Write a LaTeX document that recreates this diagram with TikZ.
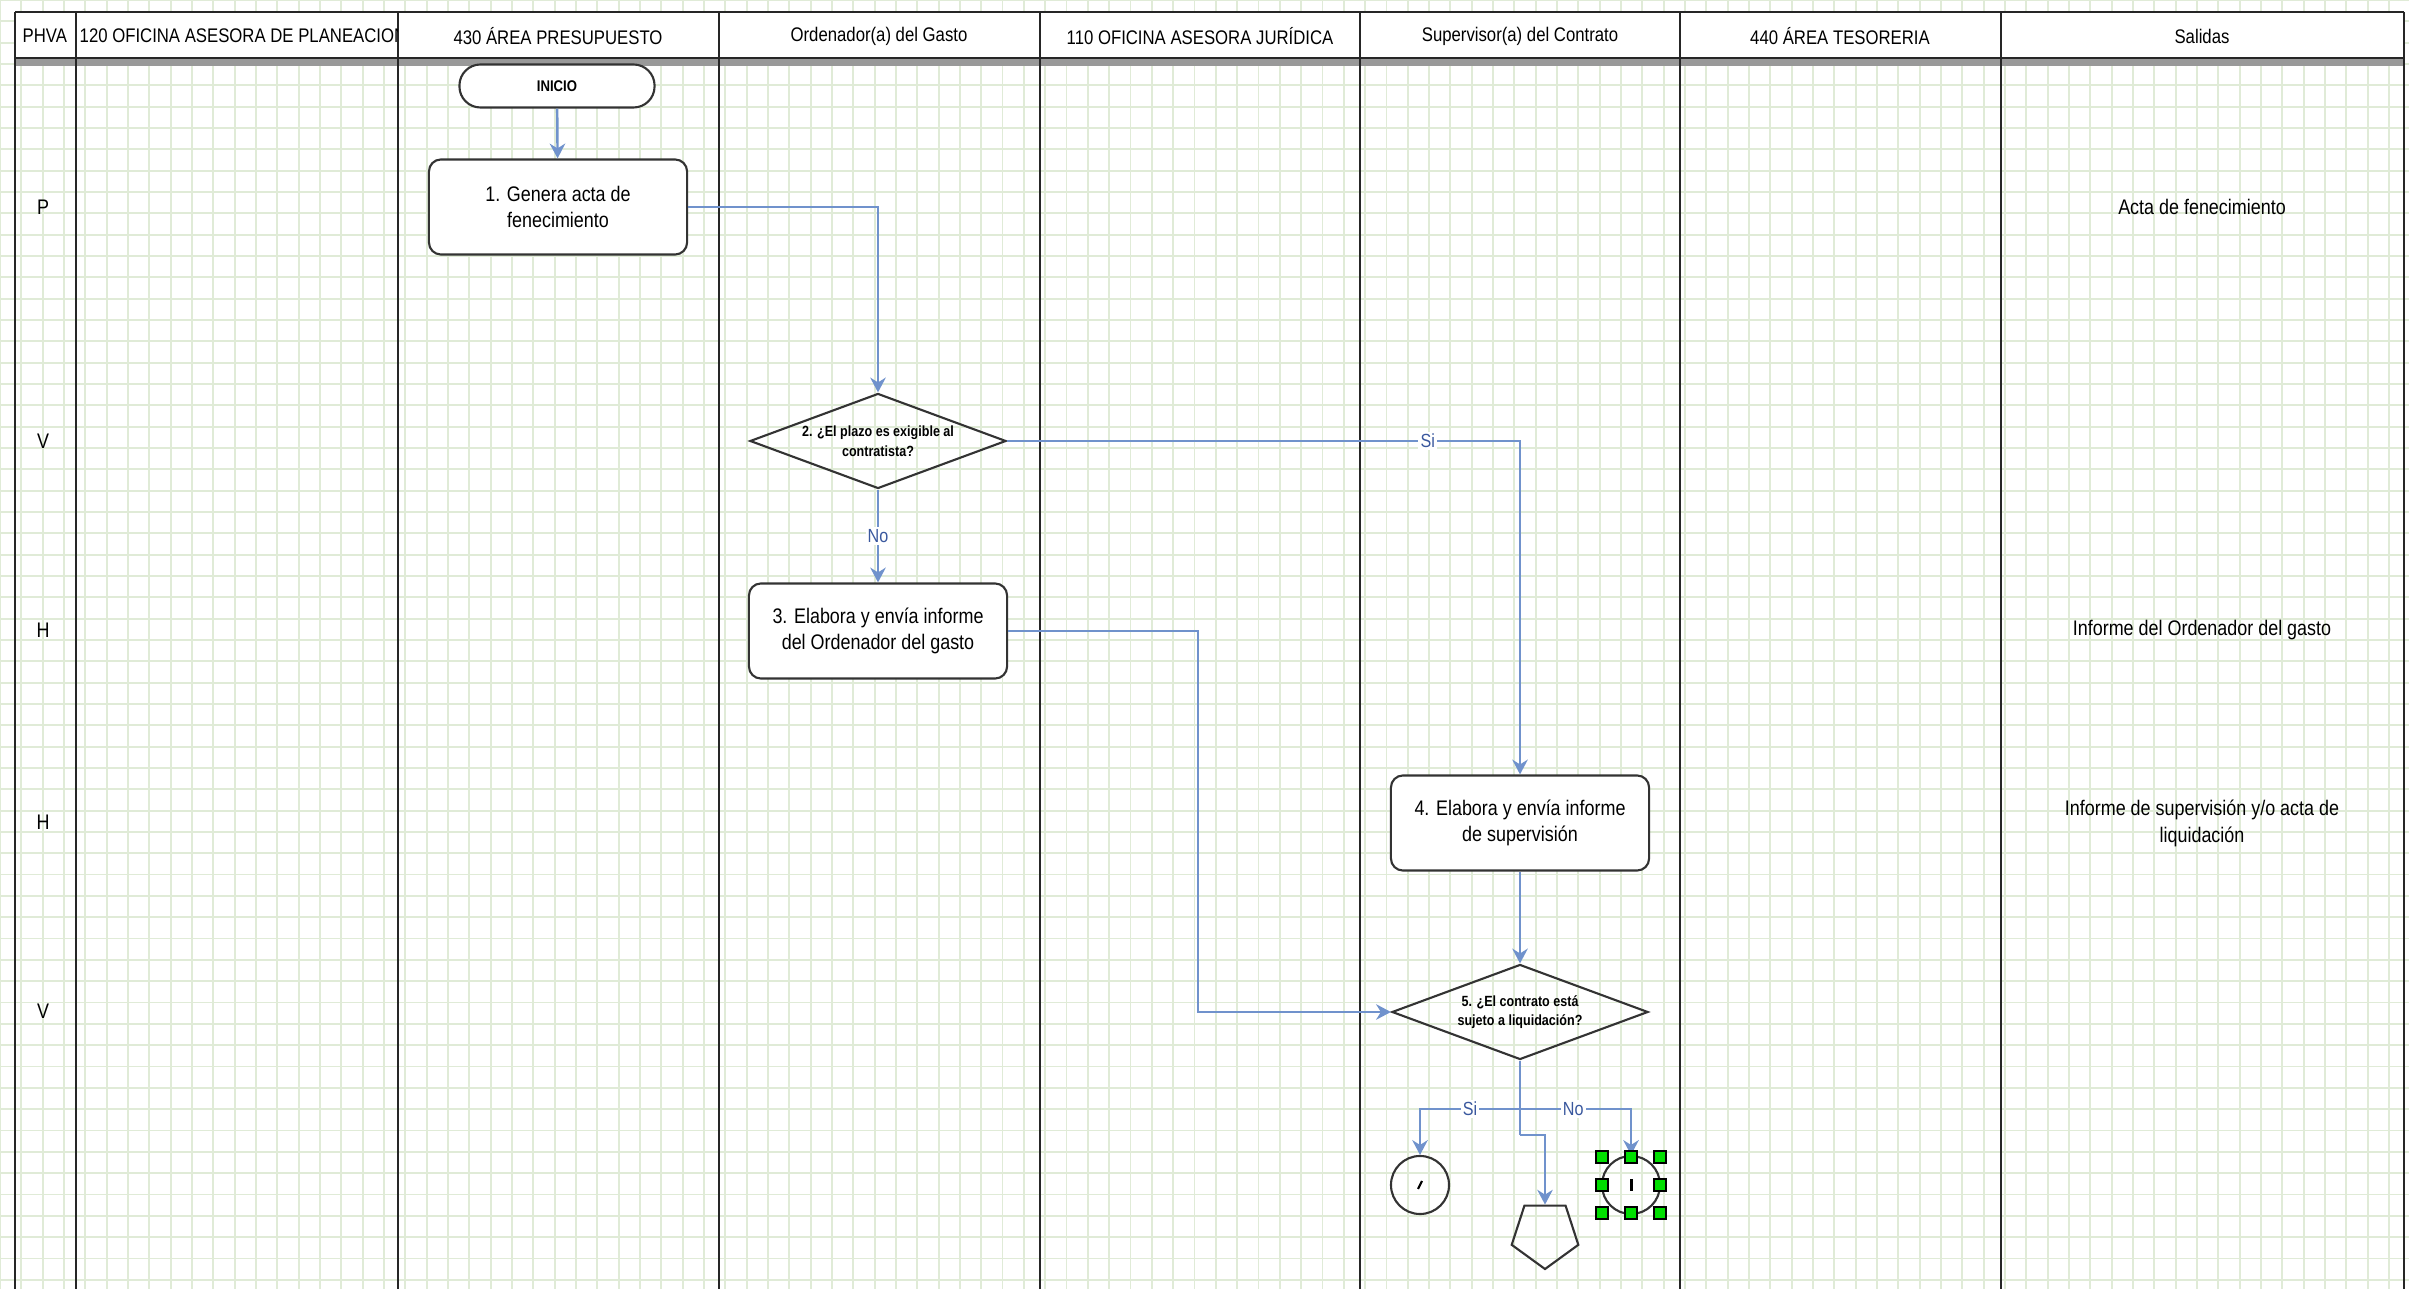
\documentclass[tikz,border=0pt]{standalone}
\usepackage{fontspec}
\newfontfamily\lanefont{Liberation Sans}[FakeStretch=0.85]
\usepackage{tikz}
\usepackage{xcolor}
\usetikzlibrary{shapes.geometric,arrows.meta}

\definecolor{gridgreen}{RGB}{224,235,215}
\definecolor{flowblue}{RGB}{112,146,204}
\definecolor{labelblue}{RGB}{58,88,158}
\definecolor{handlegreen}{RGB}{0,222,0}

\tikzset{
    gridline/.style={draw=gridgreen,line width=0.55pt},
    lane/.style={draw=black!85,line width=0.75pt},
    header/.style={font=\lanefont\fontsize{5.6}{6.5}\selectfont,inner sep=0pt},
    rowlabel/.style={font=\lanefont\fontsize{6}{7}\selectfont,inner sep=0pt},
    terminal/.style={draw=black!80,line width=0.6pt,fill=white,rounded corners=0.21cm,
        minimum width=1.95cm,minimum height=0.43cm,inner sep=0pt,
        font=\lanefont\bfseries\fontsize{4.4}{5}\selectfont},
    activity/.style={draw=black!80,line width=0.6pt,fill=white,rounded corners=0.12cm,
        minimum width=2.58cm,minimum height=0.95cm,align=center,
        font=\lanefont\fontsize{6}{7.4}\selectfont},
    decision/.style={draw=black!80,line width=0.6pt,diamond,aspect=2.7,
        minimum width=2.56cm,minimum height=0.95cm,inner sep=0pt,align=center,
        font=\lanefont\bfseries\fontsize{4.2}{5.6}\selectfont},
    connector/.style={draw=black!80,line width=0.6pt,circle,minimum size=0.58cm,inner sep=0pt},
    offpage/.style={draw=black!80,line width=0.6pt,regular polygon,regular polygon sides=5,
        shape border rotate=180,minimum size=0.7cm,inner sep=0pt},
    output/.style={align=center,font=\lanefont\fontsize{6}{7.7}\selectfont},
    flow/.style={draw=flowblue,line width=0.7pt,-{Stealth[length=4.2pt,width=4.4pt]}},
    flowline/.style={draw=flowblue,line width=0.7pt},
    flowlabel/.style={fill=white,inner sep=0.6pt,text=labelblue,font=\lanefont\fontsize{5.4}{6}\selectfont},
    handle/.style={draw=black,line width=0.4pt,fill=handlegreen}
}

\begin{document}
\begin{tikzpicture}[x=0.01cm,y=-0.01cm]
        \pgfmathsetmacro{\gridstep}{21.33}
        \useasboundingbox (0,0) rectangle (2409,1289);
        \fill[white] (0,0) rectangle (2409,1289);
        \foreach \gx in {0,\gridstep,...,2409} \draw[gridline] (\gx,0) -- (\gx,1289);
        \foreach \gy in {0,\gridstep,...,1289} \draw[gridline] (0,\gy) -- (2409,\gy);

        \fill[white] (15,12) rectangle (2404,60);
        \draw[line width=2pt,draw=black!40] (15,62) -- (2404,62);
        \draw[lane] (15,12) -- (2404,12);
        \draw[lane] (15,58) -- (2404,58);
        \foreach \lx in {15,76,398,719,1040,1360,1680,2001,2404}
            \draw[lane] (\lx,12) -- (\lx,1289);

        \begin{scope}
            \clip (16,13) rectangle (75,57);
            \node[header,anchor=west] (hdrphva) at (22,36) {PHVA};
        \end{scope}
        \begin{scope}
            \clip (77,13) rectangle (397,57);
            \node[header,anchor=west] (hdrplan) at (79,36) {120 OFICINA ASESORA DE PLANEACION};
        \end{scope}
        \node[header] (hdrpres) at (558,36) {430 ÁREA PRESUPUESTO};
        \node[header] (hdrord) at (879,36) {Ordenador(a) del Gasto};
        \node[header] (hdrjur) at (1200,36) {110 OFICINA ASESORA JURÍDICA};
        \node[header] (hdrsup) at (1520,36) {Supervisor(a) del Contrato};
        \node[header] (hdrtes) at (1840,36) {440 ÁREA TESORERIA};
        \node[header] (hdrsal) at (2202,36) {Salidas};

        \node[rowlabel] (rowp) at (43,207) {P};
        \node[rowlabel] (rowv) at (43,441) {V};
        \node[rowlabel] (rowh) at (43,630) {H};
        \node[rowlabel] (rowhh) at (43,822) {H};
        \node[rowlabel] (rowvv) at (43,1011) {V};

        \node[terminal] (inicio) at (557,86) {INICIO};
        \node[activity] (act1) at (558,207) {1. Genera acta de\\fenecimiento};
        \node[decision] (dec2) at (878,441) {2. ¿El plazo es exigible al\\contratista?};
        \node[activity] (act3) at (878,631) {3. Elabora y envía informe\\del Ordenador del gasto};
        \node[activity] (act4) at (1520,823) {4. Elabora y envía informe\\de supervisión};
        \node[decision] (dec5) at (1520,1012) {5. ¿El contrato está\\sujeto a liquidación?};
        \node[connector] (endsi) at (1420,1185) {};
        \node[offpage] (offpage) at (1545,1234) {};
        \node[connector] (endno) at (1631,1185) {};

        \node[output] (out1) at (2202,207) {Acta de fenecimiento};
        \node[output] (out3) at (2202,630) {Informe del Ordenador del gasto};
        \node[output] (out4) at (2202,823) {Informe de supervisión y/o acta de\\liquidación};

        \coordinate (bend3) at (1198,631);
        \coordinate (split) at (1520,1109);
        \coordinate (jog) at (1520,1135);

        \draw[flow] (inicio) -- (act1);
        \draw[flow] (act1.east) -| (dec2.north);
        \draw[flow] (dec2.south) -- node[flowlabel] {No} (act3.north);
        \draw[flow] (dec2.east) -| node[flowlabel,pos=0.41] {Si} (act4.north);
        \draw[flow] (act3.east) -- (bend3) |- (dec5.west);
        \draw[flow] (act4) -- (dec5);
        \draw[flowline] (dec5.south) -- (jog);
        \draw[flow] (split) -| node[flowlabel,pos=0.25] {Si} (endsi.north);
        \draw[flow] (split) -| node[flowlabel,pos=0.24] {No} (endno.north);
        \draw[flow] (jog) -| (offpage.north);

        \draw[line width=0.6pt] ([shift={(-2,4)}]endsi.center) -- ([shift={(2,-4)}]endsi.center);
        \fill ([shift={(-1.5,-6)}]endno.center) rectangle ([shift={(1.5,6)}]endno.center);
        \foreach \hx/\hy in {-29/-28,0/-28,29/-28,-29/0,29/0,-29/28,0/28,29/28}
            \draw[handle] ([shift={(\hx-6,\hy-6)}]endno.center) rectangle ([shift={(\hx+6,\hy+6)}]endno.center);
\end{tikzpicture}
\end{document}
